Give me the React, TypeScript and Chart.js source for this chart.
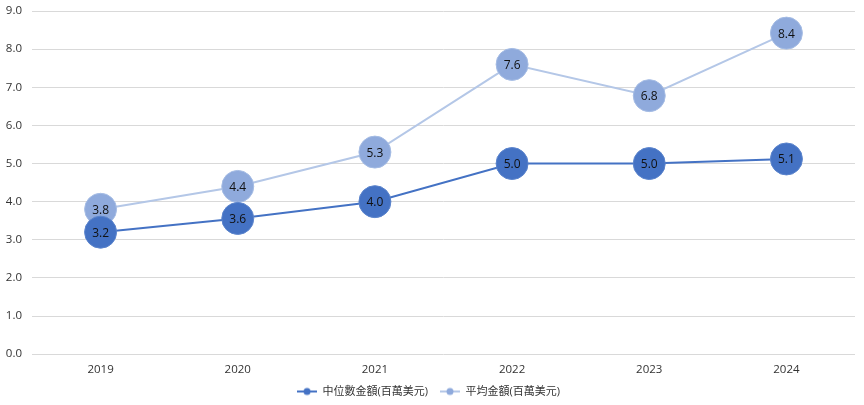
import React, { useEffect, useRef } from "react";
import { Chart, registerables } from "chart.js";

Chart.register(...registerables);

const years = ["2019", "2020", "2021", "2022", "2023", "2024"];
const medianValues = [3.2, 3.56, 4.0, 5.0, 5.0, 5.12];
const averageValues = [3.8, 4.4, 5.3, 7.6, 6.78, 8.42];
const medianLabel = "中位數金額(百萬美元)";
const averageLabel = "平均金額(百萬美元)";
const yTicks = [0, 1, 2, 3, 4, 5, 6, 7, 8, 9];

const DARK = "#4472C4";
const LIGHT = "#8FAADC";
const LIGHT_LINE = "#B4C7E7";
const FONT = "'Open Sans', 'Noto Sans CJK TC', sans-serif";

function legendIcon(lineColor: string, dotColor: string) {
  const c = document.createElement("canvas");
  c.width = 20;
  c.height = 10;
  const ctx = c.getContext("2d")!;
  ctx.strokeStyle = lineColor;
  ctx.lineWidth = 2;
  ctx.beginPath();
  ctx.moveTo(0, 5);
  ctx.lineTo(20, 5);
  ctx.stroke();
  ctx.fillStyle = dotColor;
  ctx.beginPath();
  ctx.arc(10, 5, 3.5, 0, Math.PI * 2);
  ctx.fill();
  return c;
}

const valueLabels = {
  id: "valueLabels",
  afterDatasetsDraw(chart: any) {
    const ctx = chart.ctx;
    ctx.save();
    ctx.font = `12px ${FONT}`;
    ctx.fillStyle = "#111";
    ctx.textAlign = "center";
    ctx.textBaseline = "middle";
    chart.data.datasets.forEach((ds: any, i: number) => {
      const meta = chart.getDatasetMeta(i);
      meta.data.forEach((pt: any, j: number) => {
        ctx.fillText(Number(ds.data[j]).toFixed(1), pt.x, pt.y + 1);
      });
    });
    ctx.restore();
  },
};

export default function App() {
  const ref = useRef<HTMLCanvasElement | null>(null);
  useEffect(() => {
    document.body.style.margin = "0";
    const icons = [legendIcon(DARK, DARK), legendIcon(LIGHT_LINE, LIGHT)];
    const chart = new Chart(ref.current!, {
      type: "line",
      data: {
        labels: years,
        datasets: [
          {
            label: medianLabel,
            data: medianValues,
            borderColor: DARK,
            backgroundColor: DARK,
            borderWidth: 2,
            pointRadius: 16,
            pointHoverRadius: 16,
            pointBackgroundColor: DARK,
            pointBorderColor: "#5b84cc",
            pointBorderWidth: 1,
            order: 1,
          },
          {
            label: averageLabel,
            data: averageValues,
            borderColor: LIGHT_LINE,
            backgroundColor: LIGHT,
            borderWidth: 2,
            pointRadius: 16,
            pointHoverRadius: 16,
            pointBackgroundColor: LIGHT,
            pointBorderColor: "#a5bce4",
            pointBorderWidth: 1,
            order: 2,
          },
        ],
      },
      options: {
        animation: false,
        responsive: true,
        maintainAspectRatio: false,
        layout: { autoPadding: false, padding: { top: 11, right: 9, left: 2, bottom: -2 } },
        plugins: {
          tooltip: { enabled: false },
          legend: {
            position: "bottom",
            labels: {
              usePointStyle: true,
              pointStyleWidth: 20,
              font: { family: FONT, size: 11 },
              color: "#333",
              padding: 12,
              generateLabels: (ch: any) =>
                ch.data.datasets.map((ds: any, i: number) => ({
                  text: ds.label,
                  pointStyle: icons[i],
                  fillStyle: ds.backgroundColor,
                  strokeStyle: ds.borderColor,
                  lineWidth: 0,
                  datasetIndex: i,
                  fontColor: "#333",
                })),
            },
          },
        },
        scales: {
          x: {
            offset: true,
            grid: { display: false },
            border: { display: false },
            ticks: { font: { family: FONT, size: 11.5 }, color: "#333", padding: 1 },
            afterFit: (s: any) => {
              s.paddingLeft = 0;
              s.paddingRight = 0;
              s.height = s.height - 4;
            },
          },
          y: {
            min: 0,
            max: 9,
            afterBuildTicks: (s: any) => {
              s.ticks = yTicks.map((v) => ({ value: v }));
            },
            grid: { color: "#d9d9d9", drawTicks: false },
            border: { display: false },
            ticks: {
              font: { family: FONT, size: 11.5 },
              color: "#333",
              padding: 10,
              callback: (v: any) => Number(v).toFixed(1),
            },
            afterFit: (s: any) => {
              s.width = 30;
              s.paddingTop = 0;
              s.paddingBottom = 0;
            },
          },
        },
      },
      plugins: [valueLabels],
    });
    return () => chart.destroy();
  }, []);
  return (
    <div style={{ width: 864, height: 405, position: "relative" }}>
      <canvas ref={ref} />
    </div>
  );
}
